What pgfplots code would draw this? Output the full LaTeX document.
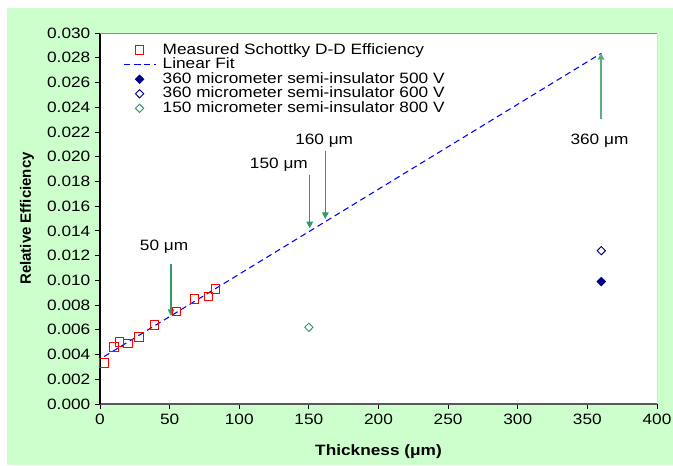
\documentclass[border=0pt]{standalone}
\usepackage{fontspec}
\setmainfont[FakeStretch=1.15]{Liberation Sans}
\newfontfamily\plainsans{Liberation Sans}
\usepackage{pgfplots}
\pgfplotsset{compat=1.18}
\usetikzlibrary{arrows.meta}
\definecolor{bggreen}{HTML}{CCFFCC}
\definecolor{seagreen}{HTML}{339966}
\definecolor{navyblue}{HTML}{000080}
\newcommand{\chartfont}{\fontsize{11.25}{13}\selectfont}

\begin{document}
\begin{tikzpicture}[x=1pt,y=1pt]
\path[use as bounding box] (0,0) rectangle (504.75,348.75);
\fill[bggreen] (5.25,0) rectangle (504.75,342.75);
\begin{axis}[
    at={(75pt,45.75pt)}, anchor=south west,
    scale only axis, width=417.75pt, height=278.25pt,
    xmin=0, xmax=400, ymin=0, ymax=0.030,
    xtick={0,50,...,400}, ytick distance=0.002,
    scaled y ticks=false,
    yticklabel style={/pgf/number format/.cd, fixed, fixed zerofill, precision=3},
    /pgf/number format/assume math mode=true,
    tick label style={font=\chartfont, black},
    axis x line*=bottom, axis y line*=left,
    x axis line style={draw=black!65, line width=1.3pt},
    y axis line style={draw=black, line width=1.1pt},
    tick align=outside, major tick length=3.75pt,
    tick style={black, line width=0.6pt},
    axis background/.style={fill=white},
    xlabel={Thickness (μm)},
    ylabel={Relative Efficiency},
    xlabel style={font=\chartfont\bfseries, at={(axis description cs:0.5,-0.1294)}, anchor=center},
    ylabel style={font=\plainsans\chartfont\bfseries, at={(axis description cs:-0.1311,0.5)}, anchor=center, rotate=0},
    legend image code/.code={\draw[mark repeat=2,mark phase=2,#1] plot coordinates {(0cm,0cm)(0.42cm,0cm)(0.84cm,0cm)};},
    legend cell align=left,
    legend style={at={(rel axis cs:0.041,0.974)}, anchor=north west, draw=none, fill=none,
        inner sep=0pt, column sep=4.5pt, row sep=0pt, font=\chartfont,
        nodes={inner xsep=0.5pt, inner ysep=0.1pt, text height=8.3pt, text depth=2.4pt}},
]
\addplot[only marks, red, mark=square, mark size=3.2pt, mark options={line width=0.7pt}] coordinates {
    (3,0.0033)(10,0.0046)(14,0.0050)(20,0.0049)(28,0.0054)
    (39,0.0064)(55,0.0075)(68,0.0085)(78,0.0087)(83,0.0093)
};
\addlegendentry{Measured Schottky D-D Efficiency}
\addplot[blue, mark=none, line width=0.8pt, dash pattern=on 4.5pt off 3pt] coordinates {
    (3,0.00384)(360,0.02836)
};
\addlegendentry{Linear Fit}
\addplot[only marks, navyblue, mark=diamond*, mark size=3.3pt, mark options={xscale=1.33, fill=navyblue}] coordinates {
    (360,0.0099)
};
\addlegendentry{360 micrometer semi-insulator 500 V}
\addplot[only marks, navyblue, mark=diamond, mark size=3.1pt, mark options={xscale=1.33, line width=0.7pt}] coordinates {
    (360,0.0124)
};
\addlegendentry{360 micrometer semi-insulator 600 V}
\addplot[only marks, seagreen, mark=diamond, mark size=3.1pt, mark options={xscale=1.33, line width=0.7pt}] coordinates {
    (150,0.0062)
};
\addlegendentry{150 micrometer semi-insulator 800 V}

% plot area frame (top and right)
\draw[black!45, line width=0.6pt] (rel axis cs:0,1) -- (rel axis cs:1,1) -- (rel axis cs:1,0);

% thickness annotations
\draw[seagreen, line width=0.8pt, -{Triangle[length=5pt,width=5pt]}] (axis cs:51,0.01132) -- (axis cs:51,0.00712);
\draw[seagreen, line width=0.8pt, -{Triangle[length=5pt,width=5pt]}] (axis cs:150.6,0.01852) -- (axis cs:150.6,0.01421);
\draw[seagreen, line width=0.8pt, -{Triangle[length=5pt,width=5pt]}] (axis cs:161.8,0.02046) -- (axis cs:161.8,0.01496);
\draw[seagreen!80, line width=0.8pt, -{Triangle[length=5pt,width=5pt]}] (axis cs:359.8,0.02305) -- (axis cs:359.8,0.02838);
\node[anchor=base, font=\chartfont, inner sep=0pt] at (axis cs:46,0.01245) {50 μm};
\node[anchor=base, font=\chartfont, inner sep=0pt] at (axis cs:128.5,0.01905) {150 μm};
\node[anchor=base, font=\chartfont, inner sep=0pt] at (axis cs:161,0.0210) {160 μm};
\node[anchor=base, font=\chartfont, inner sep=0pt] at (axis cs:358.7,0.0210) {360 μm};
\end{axis}
\end{tikzpicture}
\end{document}
